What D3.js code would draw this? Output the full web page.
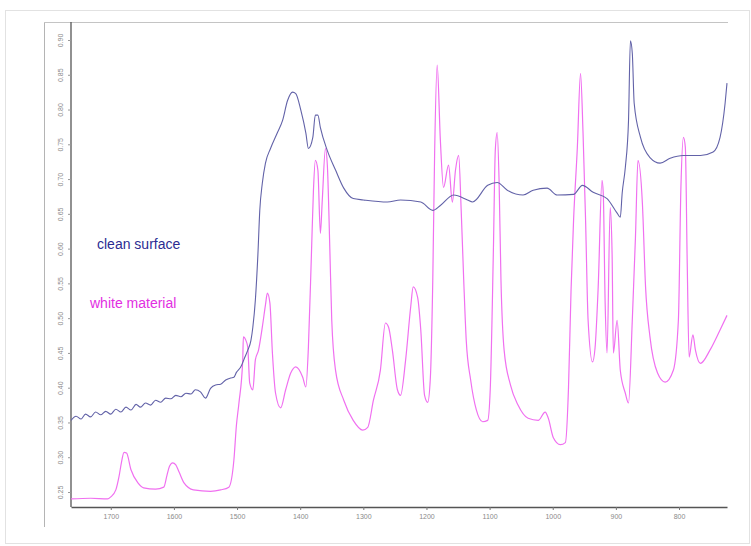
<!DOCTYPE html>
<html>
<head>
<meta charset="utf-8">
<script src="https://cdn.jsdelivr.net/npm/d3@7"></script>
<style>
  body { margin: 0; background: #fff; }
  svg { font-family: "Liberation Sans", Arial, sans-serif; }
</style>
</head>
<body>
<svg width="751" height="546"></svg>
<script>
// wavenumber (cm-1) / absorbance pairs
const cleanWn = [1763,1755,1747,1740,1732,1724,1716,1708,1700,1692,1684,1676,1668,1660,1653,1645,1637,1629,1621,1613,1605,1597,1589,1581,1573,1566,1558,1550,1542,1534,1526,1518,1510,1505,1501,1494,1488,1483,1478,1475,1471,1467,1464,1460,1455,1447,1436,1428,1420,1412,1407,1399,1391,1387,1380,1376,1372,1368,1357,1344,1331,1316,1300,1262,1241,1209,1190,1178,1157,1135,1127,1103,1088,1072,1047,1031,1009,993,967,953,936,914,898,893,890,885,880,877,874,871,861,846,830,814,793,766,746,735,727,724];
const cleanAbs = [0.353,0.359,0.355,0.362,0.358,0.365,0.361,0.366,0.362,0.369,0.365,0.372,0.368,0.376,0.372,0.378,0.375,0.382,0.379,0.385,0.384,0.389,0.387,0.392,0.391,0.397,0.394,0.385,0.399,0.404,0.405,0.411,0.414,0.415,0.422,0.430,0.443,0.454,0.468,0.487,0.526,0.591,0.655,0.694,0.723,0.744,0.767,0.784,0.813,0.825,0.823,0.799,0.766,0.744,0.760,0.792,0.792,0.774,0.741,0.713,0.687,0.672,0.670,0.667,0.670,0.667,0.655,0.662,0.677,0.670,0.667,0.691,0.695,0.684,0.677,0.684,0.687,0.677,0.678,0.691,0.681,0.672,0.651,0.645,0.680,0.717,0.784,0.899,0.881,0.809,0.760,0.731,0.723,0.730,0.734,0.734,0.739,0.760,0.809,0.838];

const whiteWn = [1763,1732,1705,1700,1692,1687,1683,1679,1675,1668,1657,1648,1629,1616,1611,1607,1602,1597,1592,1584,1569,1542,1526,1513,1505,1501,1497,1491,1490,1486,1483,1480,1475,1471,1466,1460,1455,1452,1448,1444,1439,1431,1423,1415,1407,1396,1391,1387,1382,1379,1376,1372,1368,1365,1360,1357,1353,1350,1344,1331,1316,1301,1293,1284,1273,1265,1260,1254,1246,1241,1233,1225,1221,1214,1209,1203,1198,1194,1190,1187,1183,1178,1173,1165,1159,1154,1149,1145,1141,1137,1130,1121,1111,1103,1099,1094,1091,1088,1085,1082,1077,1067,1055,1039,1023,1012,1007,999,988,980,975,971,967,961,956,952,948,944,937,933,928,922,920,917,914,909,906,904,898,893,885,880,874,869,865,858,853,846,834,822,809,801,797,793,790,787,784,778,774,766,751,735,724];
const whiteAbs = [0.240,0.241,0.240,0.243,0.253,0.272,0.293,0.307,0.306,0.282,0.263,0.256,0.254,0.257,0.274,0.287,0.292,0.289,0.279,0.263,0.253,0.251,0.253,0.257,0.296,0.346,0.378,0.440,0.473,0.468,0.458,0.407,0.397,0.440,0.454,0.487,0.519,0.536,0.522,0.450,0.392,0.371,0.397,0.421,0.430,0.415,0.401,0.458,0.598,0.684,0.727,0.713,0.622,0.670,0.744,0.720,0.598,0.497,0.425,0.382,0.353,0.339,0.343,0.382,0.425,0.493,0.487,0.454,0.397,0.389,0.440,0.516,0.545,0.530,0.483,0.389,0.379,0.411,0.555,0.741,0.864,0.756,0.688,0.720,0.667,0.713,0.734,0.655,0.555,0.468,0.411,0.368,0.351,0.353,0.397,0.598,0.741,0.767,0.698,0.555,0.454,0.404,0.375,0.356,0.353,0.365,0.356,0.328,0.318,0.321,0.401,0.540,0.641,0.746,0.852,0.766,0.641,0.497,0.437,0.457,0.545,0.698,0.680,0.522,0.450,0.659,0.593,0.450,0.497,0.425,0.392,0.378,0.497,0.616,0.727,0.665,0.545,0.473,0.421,0.408,0.425,0.497,0.688,0.760,0.746,0.579,0.444,0.476,0.454,0.435,0.454,0.483,0.504];

const xTicks = [1700,1600,1500,1400,1300,1200,1100,1000,900,800];
const yTicks = [0.25,0.30,0.35,0.40,0.45,0.50,0.55,0.60,0.65,0.70,0.75,0.80,0.85,0.90];

const svg = d3.select("svg");

// outer frame
svg.append("rect")
  .attr("x", 5.5).attr("y", 10.5)
  .attr("width", 744).attr("height", 533)
  .attr("fill", "none")
  .attr("stroke", "#e2e2e2");

const margin = { top: 22, left: 71, bottom: 507, right: 727 };

const x = d3.scaleLinear().domain([1763, 724]).range([margin.left, margin.right]);
const y = d3.scaleLinear().domain([0.25, 0.90]).range([492, 40]);

// left panel line and top line
svg.append("line")
  .attr("x1", 44.5).attr("x2", 44.5)
  .attr("y1", margin.top).attr("y2", 527)
  .attr("stroke", "#b4b4b4");
svg.append("line")
  .attr("x1", 44).attr("x2", 728)
  .attr("y1", margin.top + 0.5).attr("y2", margin.top + 0.5)
  .attr("stroke", "#c4c4c4");

// axes
const xAxis = d3.axisBottom(x)
  .tickValues(xTicks)
  .tickFormat(d3.format("d"))
  .tickSize(3)
  .tickSizeOuter(0);
const gx = svg.append("g")
  .attr("transform", `translate(0,${margin.bottom})`)
  .call(xAxis);
gx.select(".domain").attr("stroke", "#555").attr("stroke-width", 1.3);
gx.selectAll(".tick line").attr("stroke", "#777");
gx.selectAll(".tick text")
  .attr("fill", "#8a8a8a")
  .style("font-size", "7px")
  .attr("dy", "0.9em");

const yAxis = d3.axisLeft(y)
  .tickValues(yTicks)
  .tickFormat(d3.format(".2f"))
  .tickSize(3)
  .tickSizeOuter(0);
const gy = svg.append("g")
  .attr("transform", `translate(${margin.left},0)`)
  .call(yAxis);
gy.select(".domain")
  .attr("d", `M0,${margin.top}V${margin.bottom}`)
  .attr("stroke", "#555").attr("stroke-width", 1.3);
gy.selectAll(".tick line").attr("stroke", "#999");
gy.selectAll(".tick text")
  .attr("fill", "#8a8a8a")
  .style("font-size", "7px")
  .attr("text-anchor", "middle")
  .attr("x", 0).attr("dy", 0)
  .attr("transform", "translate(-8,0) rotate(-90)");

// spectra
const line = d3.line()
  .curve(d3.curveMonotoneX)
  .x(d => x(d[0]))
  .y(d => y(d[1]));

const cleanData = cleanWn.map((w, i) => [w, cleanAbs[i]]);
const whiteData = whiteWn.map((w, i) => [w, whiteAbs[i]]);

svg.append("path")
  .datum(whiteData)
  .attr("fill", "none")
  .attr("stroke", "#f070f0")
  .attr("stroke-width", 1.2)
  .attr("d", line);

svg.append("path")
  .datum(cleanData)
  .attr("fill", "none")
  .attr("stroke", "#6262a8")
  .attr("stroke-width", 1.1)
  .attr("d", line);

// labels
svg.append("text")
  .attr("x", 97).attr("y", 249)
  .attr("fill", "#2c2c92")
  .style("font-size", "14px")
  .text("clean surface");

svg.append("text")
  .attr("x", 90).attr("y", 308)
  .attr("fill", "#e22ee2")
  .style("font-size", "14px")
  .text("white material");
</script>
</body>
</html>
